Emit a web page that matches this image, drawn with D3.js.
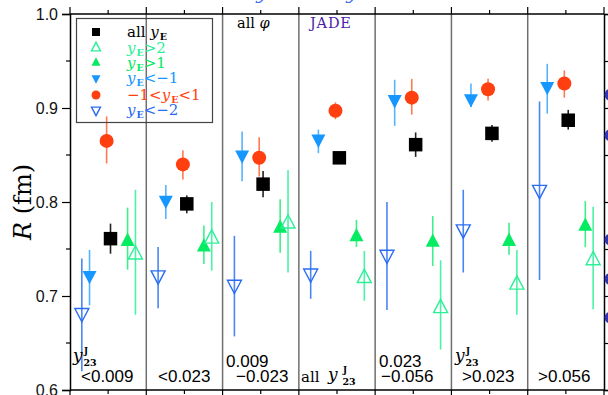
<!DOCTYPE html>
<html>
<head>
<meta charset="utf-8">
<script src="https://cdn.jsdelivr.net/npm/d3@7"></script>
<style>
  body { margin: 0; background: #fff; }
  svg { display: block; }
</style>
</head>
<body>
<svg id="chart" width="608" height="395"></svg>
<script>
// ---- data: one radius value per y23 bin, with lower / upper error bounds ----
const bins = ["<0.009", "<0.023", "0.009-0.023", "all", "0.023-0.056", ">0.023", ">0.056"];

const allE    = [0.761, 0.798, 0.819, 0.847, 0.861, 0.873, 0.887];
const allELo  = [0.745, 0.788, 0.805, 0.845, 0.848, 0.864, 0.877];
const allEHi  = [0.777, 0.807, 0.833, 0.849, 0.874, 0.882, 0.898];

const gt2     = [0.744, 0.761, 0.777, 0.719, 0.687, 0.712, 0.738];
const gt2Lo   = [0.680, 0.727, 0.725, 0.695, 0.643, 0.680, 0.686];
const gt2Hi   = [0.813, 0.800, 0.834, 0.748, 0.738, 0.749, 0.795];

const gt1     = [0.758, 0.752, 0.772, 0.763, 0.757, 0.758, 0.774];
const gt1Lo   = [0.728, 0.734, 0.746, 0.752, 0.732, 0.744, 0.752];
const gt1Hi   = [0.794, 0.775, 0.803, 0.781, 0.785, 0.778, 0.801];

const ltm1    = [0.722, 0.802, 0.850, 0.867, 0.909, 0.910, 0.923];
const ltm1Lo  = [0.690, 0.782, 0.822, 0.852, 0.881, 0.901, 0.894];
const ltm1Hi  = [0.749, 0.818, 0.875, 0.877, 0.930, 0.926, 0.947];

const mid     = [0.865, 0.840, 0.847, 0.897, 0.911, 0.920, 0.926];
const midLo   = [0.841, 0.824, 0.827, 0.888, 0.893, 0.908, 0.911];
const midHi   = [0.891, 0.855, 0.869, 0.906, 0.931, 0.931, 0.940];

const ltm2    = [0.682, 0.722, 0.712, 0.724, 0.744, 0.771, 0.813];
const ltm2Lo  = [0.620, 0.687, 0.657, 0.697, 0.685, 0.725, 0.717];
const ltm2Hi  = [0.740, 0.752, 0.764, 0.748, 0.800, 0.813, 0.907];

// neighbouring panel points that peek in at the right edge
const edgeR = [0.914, 0.871, 0.760, 0.718, 0.677];

const yTicks = [0.6, 0.7, 0.8, 0.9, 1.0];
const yTickLabels = ["0.6", "0.7", "0.8", "0.9", "1.0"];

// ---- layout ----
const svg = d3.select("#chart");
const pL = 70, pR = 604, pT = 14, pB = 390;
const nBins = bins.length;

const x = d3.scaleLinear().domain([0, nBins]).range([pL, pR]);
const y = d3.scaleLinear().domain([0.6, 1.0]).range([pB, pT]);

const serif = "'DejaVu Serif', 'Liberation Serif', serif";
const sans = "'Liberation Sans', Arial, sans-serif";

// series styling; `off` is the horizontal slot inside each bin
const series = [
  { v: ltm2, lo: ltm2Lo, hi: ltm2Hi, shape: "downOpen", off: 0.155, color: "#2a6cf2", err: "#4a86f4" },
  { v: ltm1, lo: ltm1Lo, hi: ltm1Hi, shape: "down",     off: 0.256, color: "#1597ff", err: "#55b4ff" },
  { v: mid,  lo: midLo,  hi: midHi,  shape: "circle",   off: 0.480, color: "#ff3f0f", err: "#ff7a52" },
  { v: allE, lo: allELo, hi: allEHi, shape: "square",   off: 0.531, color: "#000000", err: "#222222" },
  { v: gt1,  lo: gt1Lo,  hi: gt1Hi,  shape: "up",       off: 0.755, color: "#05ec62", err: "#3ef08a" },
  { v: gt2,  lo: gt2Lo,  hi: gt2Hi,  shape: "upOpen",   off: 0.858, color: "#2cef98", err: "#4cf2a8" }
];

function markerPath(shape, s) {
  const w = s, h = s * 0.95;
  if (shape === "down" || shape === "downOpen")
    return `M${-w/2},${-h/3}L${w/2},${-h/3}L0,${2*h/3}Z`;
  return `M${-w/2},${h/3}L${w/2},${h/3}L0,${-2*h/3}Z`;
}

function drawMarker(g, shape, cx, cy, s, color) {
  if (shape === "circle") {
    g.append("circle").attr("cx", cx).attr("cy", cy).attr("r", s / 2).attr("fill", color);
  } else if (shape === "square") {
    g.append("rect").attr("x", cx - s / 2).attr("y", cy - s / 2)
      .attr("width", s).attr("height", s).attr("fill", color);
  } else {
    const open = shape.endsWith("Open");
    g.append("path").attr("d", markerPath(shape, s))
      .attr("transform", `translate(${cx},${cy})`)
      .attr("fill", open ? "none" : color)
      .attr("stroke", color)
      .attr("stroke-width", open ? 1.4 : 0);
  }
}

// ---- frame: panel dividers ----
const frame = svg.append("g");
d3.range(1, nBins).forEach(i => {
  frame.append("line")
    .attr("x1", x(i)).attr("x2", x(i)).attr("y1", pT).attr("y2", pB)
    .attr("stroke", "#6f6f6f").attr("stroke-width", 1.5);
});

// top / bottom ticks at bin edges (long) and bin centres (short)
const xTickVals = d3.range(0, nBins + 0.01, 0.5);
xTickVals.forEach(t => {
  const len = Number.isInteger(t) ? 7 : 4;
  frame.append("line").attr("x1", x(t)).attr("x2", x(t))
    .attr("y1", pT).attr("y2", pT - len).attr("stroke", "#000").attr("stroke-width", 1.2);
  frame.append("line").attr("x1", x(t)).attr("x2", x(t))
    .attr("y1", pB).attr("y2", pB + len).attr("stroke", "#000").attr("stroke-width", 1.2);
});

// left axis with outward ticks
const leftAxis = d3.axisLeft(y)
  .tickValues(yTicks)
  .tickFormat((d, i) => yTickLabels[i])
  .tickSize(8).tickPadding(4);
const gl = svg.append("g").attr("transform", `translate(${pL},0)`).call(leftAxis);
gl.select(".domain").attr("stroke", "#000").attr("stroke-width", 1.5);
gl.selectAll(".tick line").attr("stroke", "#000").attr("stroke-width", 1.2);
gl.selectAll(".tick text").attr("font-family", sans).attr("font-size", 16).attr("fill", "#111");
[0.65, 0.75, 0.85, 0.95].forEach(v => {
  svg.append("line").attr("x1", pL - 4).attr("x2", pL)
    .attr("y1", y(v)).attr("y2", y(v)).attr("stroke", "#000").attr("stroke-width", 1.2);
});

// right axis: ticks every 0.05, pointing out
const rightAxis = d3.axisRight(y).tickValues(d3.range(0.6, 1.001, 0.05)).tickSize(6).tickFormat("");
const gr = svg.append("g").attr("transform", `translate(${pR},0)`).call(rightAxis);
gr.select(".domain").attr("stroke", "#000").attr("stroke-width", 1.5);
gr.selectAll(".tick line").attr("stroke", "#000").attr("stroke-width", 1.2);

// top and bottom frame lines
svg.append("line").attr("x1", pL).attr("x2", pR).attr("y1", pT).attr("y2", pT)
  .attr("stroke", "#000").attr("stroke-width", 1.5);
svg.append("line").attr("x1", pL).attr("x2", pR).attr("y1", pB).attr("y2", pB)
  .attr("stroke", "#000").attr("stroke-width", 1.5);

// neighbouring points clipped at the right edge
svg.append("g").selectAll("circle").data(edgeR).join("circle")
  .attr("cx", pR + 6.5).attr("cy", d => y(d)).attr("r", 6).attr("fill", "#3434b0");

// ---- error bars and markers ----
const marks = svg.append("g");
series.forEach(s => {
  s.v.forEach((val, i) => {
    const cx = x(i + s.off);
    marks.append("line").attr("x1", cx).attr("x2", cx)
      .attr("y1", y(s.lo[i])).attr("y2", y(s.hi[i]))
      .attr("stroke", s.err).attr("stroke-width", 1.6);
  });
});
series.forEach(s => {
  const size = s.shape === "square" ? 13.5 : 14;
  s.v.forEach((val, i) => drawMarker(marks, s.shape, x(i + s.off), y(val), size, s.color));
});

// ---- text helpers ----
function rich(g, tx, ty, parts, attrs) {
  const t = g.append("text").attr("x", tx).attr("y", ty);
  Object.entries(attrs || {}).forEach(([k, v]) => t.attr(k, v));
  let shift = 0;
  parts.forEach(p => {
    const ts = t.append("tspan").text(p.t);
    const target = p.sub ? 3 : p.sup ? -7 : 0;
    if (target !== shift) ts.attr("dy", target - shift);
    shift = target;
    if (p.i) ts.attr("font-style", "italic");
    if (p.b) ts.attr("font-weight", "bold");
    if (p.size) ts.attr("font-size", p.size);
    if (p.dx) ts.attr("dx", p.dx);
  });
  return t;
}

// ---- legend ----
const leg = svg.append("g");
leg.append("rect").attr("x", 76.5).attr("y", 18.5).attr("width", 136).attr("height", 104)
  .attr("fill", "none").attr("stroke", "#444").attr("stroke-width", 1.2);

const sub = { t: "E", sub: true, b: true, size: 9.5, dx: 1 };
const legendRows = [
  { shape: "square",   color: "#000000", parts: [{ t: "all " }, { t: "y", i: true }, sub] },
  { shape: "upOpen",   color: "#2cef98", parts: [{ t: "y", i: true }, sub, { t: ">2" }] },
  { shape: "up",       color: "#05e862", parts: [{ t: "y", i: true }, sub, { t: ">1" }] },
  { shape: "down",     color: "#1597ff", parts: [{ t: "y", i: true }, sub, { t: "<\u22121" }] },
  { shape: "circle",   color: "#ff3f0f", parts: [{ t: "\u22121<" }, { t: "y", i: true }, sub, { t: "<1" }] },
  { shape: "downOpen", color: "#2a6cf2", parts: [{ t: "y", i: true }, sub, { t: "<\u22122" }] }
];
const legRowY = [32, 48, 63, 78, 95, 110];
legendRows.forEach((r, i) => {
  const sz = r.shape === "square" ? 8 : 9;
  drawMarker(leg, r.shape, 96, legRowY[i], sz, r.color);
  rich(leg, 127, legRowY[i] + 5, r.parts,
    { "font-family": serif, "font-size": 15, fill: r.shape === "square" ? "#000" : r.color });
});

// ---- panel annotations ----
const ann = svg.append("g");
rich(ann, 237, 28, [{ t: "all " }, { t: "\u03c6", i: true }], { "font-family": serif, "font-size": 14.5, fill: "#000" });
ann.append("text").attr("x", 310).attr("y", 28).text("JADE")
  .attr("font-family", serif).attr("font-size", 14.5).attr("letter-spacing", 0.8)
  .attr("fill", "#4b1ca6");

// y23 symbol with stacked J / 23
function y23(g, tx, ty, gap) {
  const o = gap || 11;
  g.append("text").attr("x", tx).attr("y", ty).text("y")
    .attr("font-family", serif).attr("font-style", "italic").attr("font-size", 17).attr("fill", "#000");
  g.append("text").attr("x", tx + o).attr("y", ty - 7).text("J")
    .attr("font-family", serif).attr("font-size", 8.5).attr("font-weight", "bold").attr("fill", "#000");
  g.append("text").attr("x", tx + o - 0.5).attr("y", ty + 5).text("23")
    .attr("font-family", serif).attr("font-size", 9.5).attr("font-weight", "bold").attr("fill", "#000");
}

function plain(tx, ty, s) {
  ann.append("text").attr("x", tx).attr("y", ty).text(s)
    .attr("font-family", sans).attr("font-size", 17).attr("fill", "#000");
}
y23(ann, 73, 361);
plain(81, 382, "<0.009");
plain(158, 382, "<0.023");
plain(226, 367, "0.009");
plain(236, 382, "\u22120.023");
ann.append("text").attr("x", 301).attr("y", 382).text("all")
  .attr("font-family", serif).attr("font-size", 15).attr("fill", "#000");
y23(ann, 328, 380, 15);
plain(379, 367, "0.023");
plain(381, 382, "\u22120.056");
y23(ann, 455, 361);
plain(462, 382, ">0.023");
plain(538, 382, ">0.056");

// ---- y-axis title ----
const title = svg.append("text")
  .attr("transform", `translate(31,202) rotate(-90)`)
  .attr("text-anchor", "middle")
  .attr("font-family", serif).attr("font-size", 24).attr("fill", "#000");
title.append("tspan").attr("font-style", "italic").text("R");
title.append("tspan").text(" (fm)");

// ---- caption line above, cut by the top edge ----
const capGlyphs = [
  { gx: 90, s: "|" }, { gx: 185, s: "|" }, { gx: 262, s: "y" },
  { gx: 307, s: "|" }, { gx: 352, s: "y" }, { gx: 407, s: "|" }
];
svg.append("g").selectAll("text").data(capGlyphs).join("text")
  .attr("x", d => d.gx).attr("y", d => d.s === "|" ? -10 : -1)
  .attr("text-anchor", "middle")
  .attr("font-family", serif).attr("font-style", "italic").attr("font-size", 20)
  .attr("fill", "#3f6ff0").text(d => d.s);
</script>
</body>
</html>
